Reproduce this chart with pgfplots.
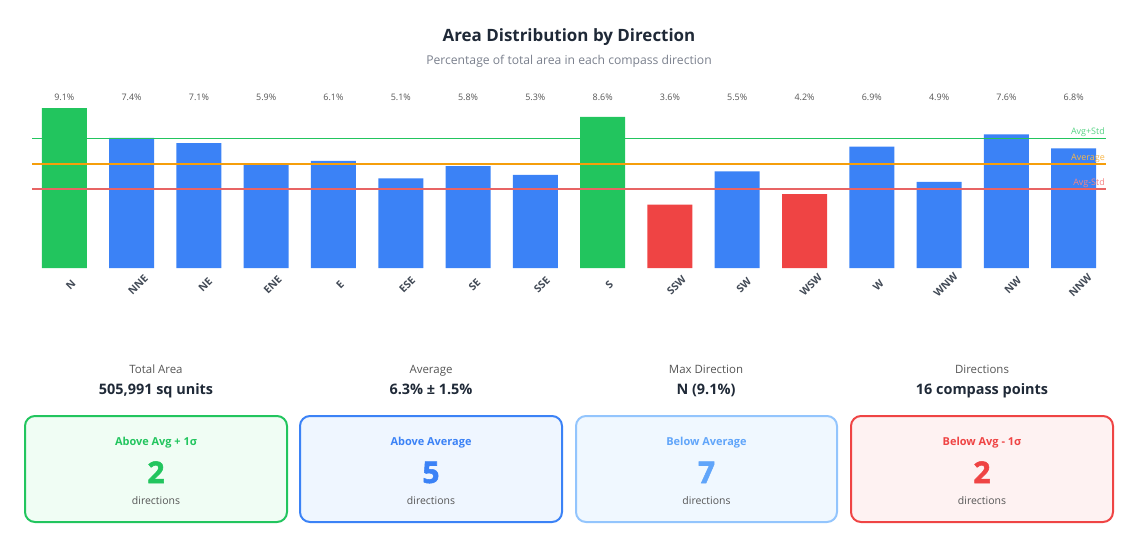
\documentclass[border=0pt]{standalone}
\usepackage{fontspec}
\setmainfont{Open Sans}
\newfontfamily\heavy{Open Sans}[BoldFeatures={FakeBold=1.8}]
\usepackage{pgfplots}
\pgfplotsset{compat=1.18}
\usepackage{pgfplotstable}
\definecolor{cgreen}{HTML}{22C55E}
\definecolor{cblue}{HTML}{3B82F6}
\definecolor{clblue}{HTML}{60A5FA}
\definecolor{clbluebd}{HTML}{93C5FD}
\definecolor{cred}{HTML}{EF4444}
\definecolor{credline}{HTML}{E86464}
\definecolor{corange}{HTML}{F59E0B}
\definecolor{ctext}{HTML}{1F2937}
\definecolor{cgray}{HTML}{6B7280}
\definecolor{cdgray}{HTML}{555555}
\definecolor{fgreen}{HTML}{F0FDF4}
\definecolor{fblue}{HTML}{EFF6FF}
\definecolor{flblue}{HTML}{F0F8FF}
\definecolor{fred}{HTML}{FEF2F2}

\pgfplotstableread{
x v
0 9.1
8 8.6
}\greendata
\pgfplotstableread{
x v
1 7.4
2 7.1
3 5.9
4 6.1
5 5.1
6 5.8
7 5.3
10 5.5
12 6.9
13 4.9
14 7.6
15 6.8
}\bluedata
\pgfplotstableread{
x v
9 3.6
11 4.2
}\reddata

\pgfplotsset{
  valbar/.style={
    ybar, bar width=45bp, bar shift=0pt, draw=none,
    visualization depends on={\thisrow{v} \as \yv},
    nodes near coords={\pgfmathprintnumber[assume math mode=true,fixed,fixed zerofill,precision=1]{\pgfplotspointmeta}\%},
    nodes near coords style={anchor=center, text=cdgray, font=\fontsize{9}{10}\selectfont,
      yshift={(9.73-\yv)*17.58*1.00375}},
  }
}

\begin{document}
\begin{tikzpicture}[x=1bp,y=1bp]
\path (0,0) rectangle (1138,-548);
\node[text=ctext, anchor=base] at (569,-42) {\fontsize{17}{20}\selectfont\bfseries Area Distribution by Direction};
\node[text=cgray!90, anchor=base] at (569,-65) {\fontsize{12.2}{14}\selectfont Percentage of total area in each compass direction};
\begin{axis}[
  at={(32bp,-268bp)}, anchor=south west,
  scale only axis, width=1074bp, height=175.8bp,
  xmin=-0.48, xmax=15.48, ymin=0, ymax=10,
  axis line style={draw=none}, tick style={draw=none},
  ytick=\empty,
  xtick={0,...,15},
  xticklabels={N,NNE,NE,ENE,E,ESE,SE,SSE,S,SSW,SW,WSW,W,WNW,NW,NNW},
  xticklabel style={xshift=6.5bp, yshift=-17bp, rotate=45, anchor=center,
    font=\fontsize{10.5}{12}\selectfont\bfseries, text=ctext!85},
  clip=false,
]
\addplot[valbar, fill=cgreen] table[x=x,y=v] {\greendata};
\addplot[valbar, fill=cblue] table[x=x,y=v] {\bluedata};
\addplot[valbar, fill=cred] table[x=x,y=v] {\reddata};
\addplot[sharp plot, no marks, color=cgreen, line width=1bp] coordinates {(-0.48,7.39) (15.48,7.39)};
\addplot[sharp plot, no marks, color=corange, line width=1.3bp] coordinates {(-0.48,5.92) (15.48,5.92)};
\addplot[sharp plot, no marks, color=credline, line width=1.3bp] coordinates {(-0.48,4.49) (15.48,4.49)};
\node[anchor=south east, inner sep=1bp, text=cgreen!75, font=\fontsize{9}{10}\selectfont] at (axis cs:15.48,7.39) {Avg+Std};
\node[anchor=south east, inner sep=1bp, text=corange!75, font=\fontsize{9}{10}\selectfont] at (axis cs:15.48,5.92) {Average};
\node[anchor=south east, inner sep=1bp, text=cred!65, font=\fontsize{9}{10}\selectfont] at (axis cs:15.48,4.49) {Avg-Std};
\end{axis}
% stats
\foreach \cx/\lab/\val in {156/Total Area/{505,991 sq units},431/Average/{6.3\% ± 1.5\%},706/Max Direction/{N (9.1\%)},982/Directions/{16 compass points}}{
  \node[text=cdgray, anchor=base] at (\cx,-374) {\fontsize{11.5}{13}\selectfont \lab};
  \node[text=ctext, anchor=base] at (\cx,-394) {\fontsize{14.5}{16}\selectfont\bfseries \val};
}
% boxes
\foreach \xa/\xb/\bd/\fl/\tc/\ttl/\num in {25/287/cgreen/fgreen/cgreen/{Above Avg + 1σ}/2,300/562/cblue/fblue/cblue/{Above Average}/5,576/837/clbluebd/flblue/clblue/{Below Average}/7,851/1113/cred/fred/cred/{Below Avg - 1σ}/2}{
  \draw[draw=\bd, fill=\fl, line width=2bp, rounded corners=10bp] (\xa,-416) rectangle (\xb,-522);
  \node[text=\tc, anchor=base] at ({(\xa+\xb)/2},-445) {\fontsize{11}{13}\selectfont\bfseries \ttl};
  \node[text=\tc, anchor=base] at ({(\xa+\xb)/2},-483) {\fontsize{30}{32}\selectfont\heavy\bfseries \num};
  \node[text=cdgray, anchor=base] at ({(\xa+\xb)/2},-504) {\fontsize{10.5}{12}\selectfont directions};
}
\end{tikzpicture}
\end{document}
